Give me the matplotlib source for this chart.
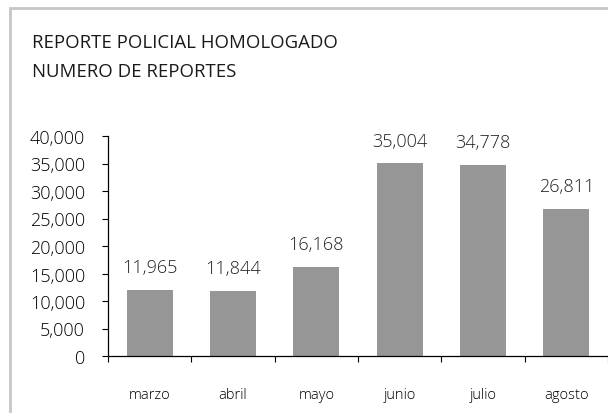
import matplotlib
matplotlib.use("Agg")
import matplotlib.pyplot as plt
from matplotlib.patches import Rectangle
from matplotlib.ticker import FuncFormatter, FixedLocator

months = ['marzo', 'abril', 'mayo', 'junio', 'julio', 'agosto']
reports = [11965, 11844, 16168, 35004, 34778, 26811]
title_lines = ['REPORTE POLICIAL HOMOLOGADO', 'NUMERO DE REPORTES']

plt.rcParams['font.family'] = ['Open Sans', 'DejaVu Sans']
plt.rcParams['font.weight'] = 'light'

fig = plt.figure(figsize=(6.08, 4.14), dpi=100)
fig.patch.set_facecolor('white')

# grey frame around the chart area (runs off the right and bottom edges)
fig.patches.append(Rectangle((10 / 608, -0.1), 1.2, 1 - 9 / 414 + 0.1,
                             transform=fig.transFigure, fill=False,
                             edgecolor='#c6c6c6', linewidth=2))

for i, line in enumerate(title_lines):
    fig.text(32 / 608, 1 - (43 + 29 * i) / 414, line, fontsize=13.4,
             fontweight='normal', va='center', color='#1a1a1a')

ax = fig.add_axes([108 / 608, 1 - 357 / 414, 1 - 108 / 608, 220 / 414])
x = list(range(len(months)))
bars = ax.bar(x, reports, width=0.55, color='#969696')

ax.set_xlim(-0.5, len(months) - 0.5)
ax.set_ylim(0, 40000)
ax.set_yticks(range(0, 40001, 5000))
ax.yaxis.set_major_formatter(FuncFormatter(lambda v, p: f'{int(v):,}'))
ax.tick_params(axis='y', direction='out', length=4.5, width=0.8, labelsize=13, pad=12)

ax.set_xticks(x)
ax.set_xticklabels(months, fontsize=10.5)
ax.tick_params(axis='x', which='major', length=0, pad=22)
ax.xaxis.set_minor_locator(FixedLocator([i + 0.5 for i in range(-1, len(months))]))
ax.tick_params(axis='x', which='minor', direction='out', length=4.5, width=0.8)

for s in ['top', 'right']:
    ax.spines[s].set_visible(False)
for s in ['left', 'bottom']:
    ax.spines[s].set_linewidth(0.9)

for b, v in zip(bars, reports):
    ax.annotate(f'{v:,}', (b.get_x() + b.get_width() / 2, v),
                xytext=(0, 10), textcoords='offset points',
                ha='center', va='bottom', fontsize=13, color='#222222')

fig.savefig('out.png', dpi=100)
